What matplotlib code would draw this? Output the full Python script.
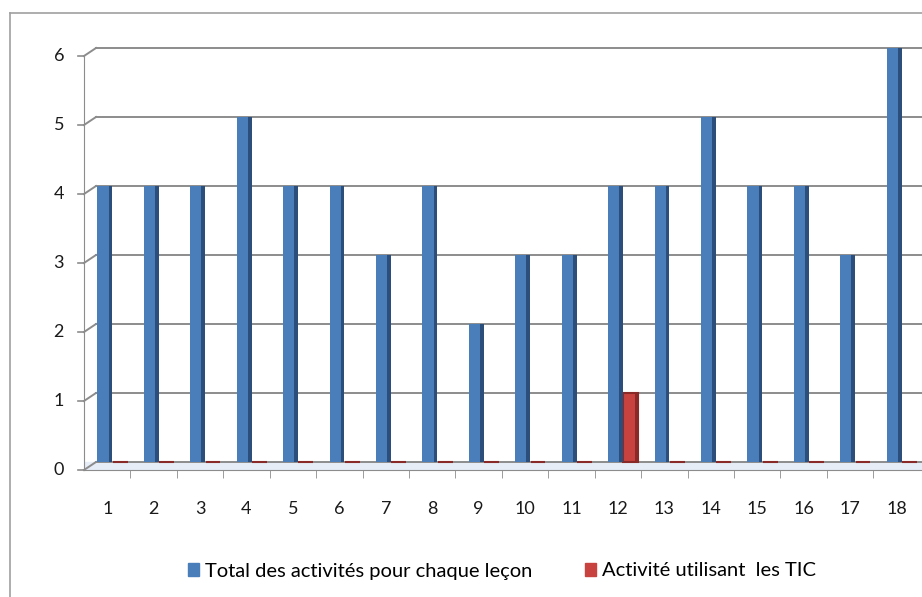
import numpy as np
import matplotlib.pyplot as plt
from matplotlib.lines import Line2D
from matplotlib.patches import Patch
from matplotlib.transforms import offset_copy

plt.rcParams['font.family'] = ['Lato', 'DejaVu Sans']

# données
lecons = [str(i) for i in range(1, 19)]
total = [4, 4, 4, 5, 4, 4, 3, 4, 2, 3, 3, 4, 4, 5, 4, 4, 3, 6]
tic = [0, 0, 0, 0, 0, 0, 0, 0, 0, 0, 0, 1, 0, 0, 0, 0, 0, 0]
yticks = [0, 1, 2, 3, 4, 5, 6]
nom_total = 'Total des activités pour chaque leçon'
nom_tic = 'Activité utilisant  les TIC'

bleu, bleu_fonce = '#4A7EBB', '#2B4E7A'
rouge, rouge_fonce = '#C8433F', '#8A2A28'
gris = '#8C8C8C'

W, H = 922, 597
fig = plt.figure(figsize=(W / 100, H / 100), dpi=100)
ax = fig.add_axes([84 / W, 1 - 470 / H, 1 - 84 / W, (470 - 40) / H])

# 0 (fond) à y=462 px, 6 à y=48 px
unite = (462 - 48) / 6
ax.set_xlim(0.5, 18.55)
ax.set_ylim(-8 / unite, 6 + 8 / unite)

x = np.arange(1, len(lecons) + 1)
larg = 0.32
xb = x - 0.05
xr = x + 0.28

# sol
ax.axhspan(-8 / unite, 0, color='#E6EDF6', zorder=0)

# grille (paroi du fond)
dx = 12 / (W - 84)
avant = offset_copy(ax.get_yaxis_transform(), fig=fig, x=0, y=-8, units='dots')
for v in yticks:
    ax.axhline(v, xmin=dx, color=gris, lw=1.4, zorder=1)
    # biais 3D à gauche
    y_av = avant.transform((0, v))
    y_ar = ax.get_yaxis_transform().transform((dx, v))
    fig.add_artist(Line2D([y_av[0] / W, y_ar[0] / W], [y_av[1] / H, y_ar[1] / H],
                          color=gris, lw=1.4))
    # graduations et étiquettes de l'axe vertical
    ax.plot([-6 / (W - 84), 0], [v, v], color=gris, lw=1.2, transform=avant, clip_on=False)
    ax.text(-20 / (W - 84), v, str(v), transform=avant, ha='right', va='center',
            fontsize=13, color='#1A1A1A')

# barres avec face latérale plus sombre
ax.bar(xb, total, width=larg, color=bleu, zorder=3)
ax.bar(xb + larg / 2 - 0.04, total, width=0.08, color=bleu_fonce, zorder=4)
ax.bar(xr, tic, width=larg, color=rouge, edgecolor=rouge_fonce, lw=1.5, zorder=3)
ax.bar(xr + larg / 2 - 0.04, tic, width=0.08, color=rouge_fonce, zorder=4)

ax.set_yticks([])
ax.set_xticks(x)
ax.set_xticklabels(lecons, fontsize=13, color='#1A1A1A')
ax.set_xticks(x[:-1] + 0.5, minor=True)
ax.tick_params(axis='x', which='major', length=0, pad=22)
ax.tick_params(axis='x', which='minor', length=6, color=gris)

for s in ['top', 'right']:
    ax.spines[s].set_visible(False)
ax.spines['left'].set_color(gris)
ax.spines['bottom'].set_color(gris)
ax.spines['left'].set_bounds(-8 / unite, 6 - 8 / unite)

# légende
handles = [Patch(color=bleu, label=nom_total), Patch(color=rouge, label=nom_tic)]
fig.legend(handles=handles, loc='center', bbox_to_anchor=(502 / W, 1 - 571 / H), ncol=2,
           frameon=False, fontsize=14.5, handlelength=0.55, handleheight=0.6,
           handletextpad=0.3, columnspacing=2.6)

# cadre extérieur
fig.add_artist(Line2D([10 / W, 10 / W], [0, 1 - 13 / H], color='#A0A0A0', lw=1.2))
fig.add_artist(Line2D([10 / W, 1], [1 - 13 / H, 1 - 13 / H], color='#A0A0A0', lw=1.2))

fig.savefig('out.png', dpi=100)
